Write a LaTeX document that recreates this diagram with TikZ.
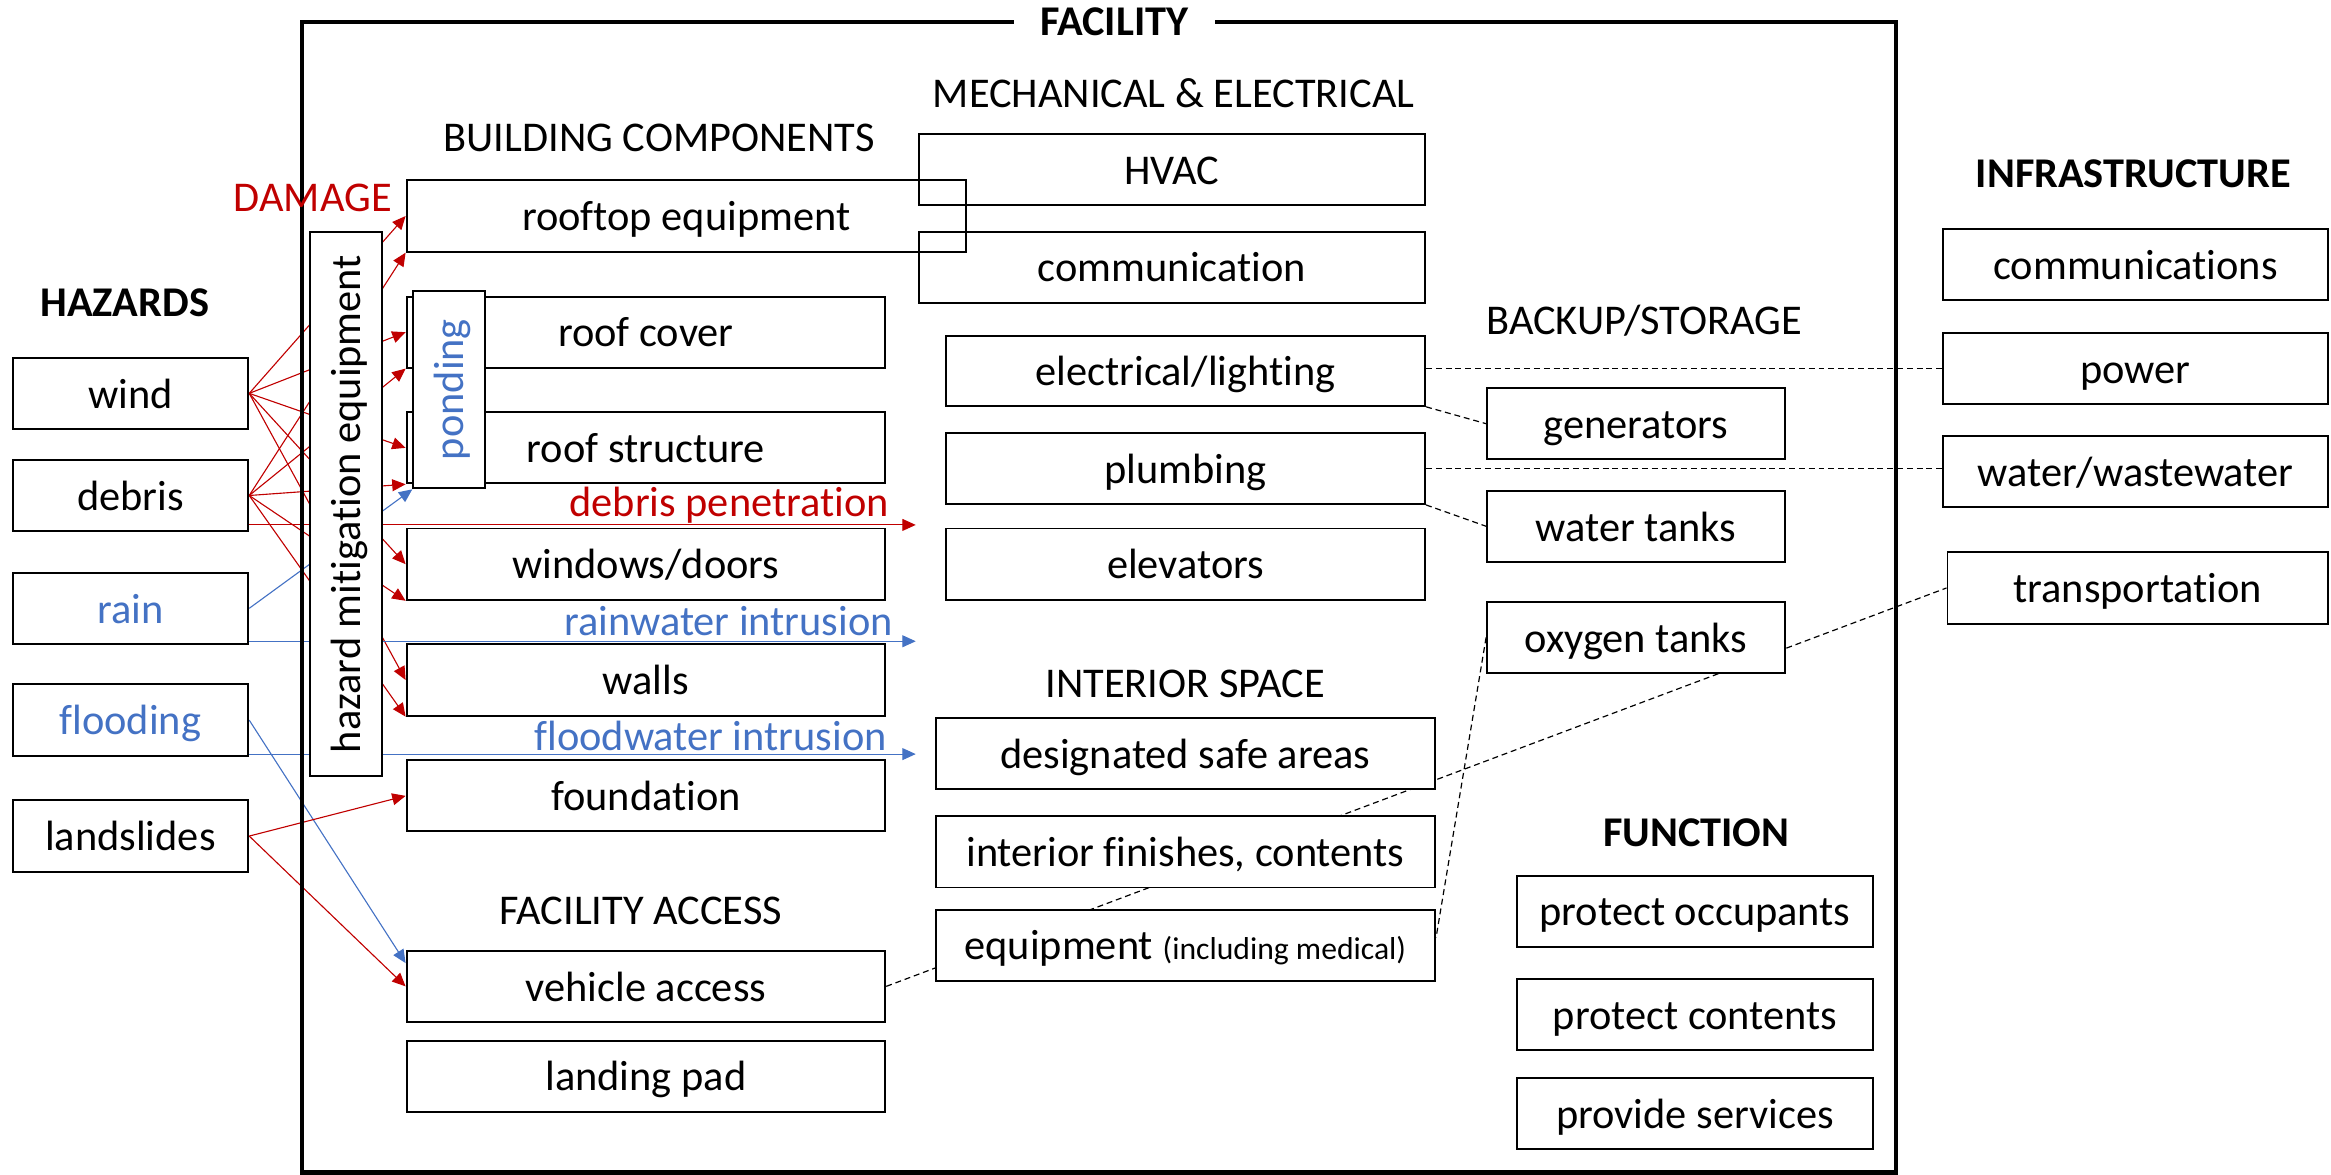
\documentclass[tikz,border=0pt]{standalone}
\usepackage{fontspec}
\setmainfont{Carlito}[Ligatures=NoCommon]
\usetikzlibrary{arrows.meta,calc}
\definecolor{dmgred}{HTML}{C00000}
\definecolor{wblue}{HTML}{4472C4}
\pgfdeclarelayer{bg}
\pgfsetlayers{bg,main}
\begin{document}
\begin{tikzpicture}[x=1pt,y=-1pt,
  bx/.style={draw, line width=1.3pt, fill=white, inner sep=0pt,
    font=\fontsize{28.5}{33}\selectfont, text height=24.2pt, text depth=4.3pt},
  ox/.style={bx, fill=none},
  lbl/.style={inner sep=0pt, font=\fontsize{28.5}{33}\selectfont, anchor=base},
  blbl/.style={inner sep=0pt, font=\fontsize{28.5}{33}\selectfont\bfseries, anchor=base},
  rline/.style={draw=dmgred, line width=0.75pt, -{Triangle[length=9pt,width=8pt]}},
  bline/.style={draw=wblue, line width=0.75pt, -{Triangle[length=9pt,width=8pt]}},
  dline/.style={draw=black, line width=0.8pt, dash pattern=on 4pt off 2.6pt}]
\useasboundingbox (0,0) rectangle (1568,790);

% facility frame
\node[draw, line width=2.9pt, inner sep=0pt, minimum width=1072.3pt, minimum height=773.8pt] (facility) at (739.15,401.7) {};
\node[fill=white, inner xsep=18pt, inner ysep=0pt, font=\fontsize{28.5}{33}\selectfont\bfseries, text height=24.2pt, text depth=4.3pt] (faclbl) at (749.6,13.7) {FACILITY};

% hazards
\node[blbl] (hazlbl) at (84,213) {HAZARDS};
\node[bx, minimum width=158.5pt, minimum height=48pt] (wind) at (87.75,264.6) {wind};
\node[bx, minimum width=158.5pt, minimum height=47.7pt] (debris) at (87.75,333.3) {debris};
\node[bx, minimum width=158.5pt, minimum height=48pt, text=wblue] (rain) at (87.75,409.2) {rain};
\node[bx, minimum width=158.5pt, minimum height=48pt, text=wblue] (flooding) at (87.75,484.4) {flooding};
\node[bx, minimum width=158.5pt, minimum height=48pt] (landslides) at (87.75,562.4) {landslides};

% labels
\node[lbl, text=dmgred] (dmglbl) at (210.4,142.4) {DAMAGE};
\node[lbl] (bclbl) at (443.4,102) {BUILDING COMPONENTS};
\node[lbl] (melbl) at (789.5,72) {MECHANICAL \& ELECTRICAL};
\node[lbl] (falbl) at (431,621.6) {FACILITY ACCESS};
\node[lbl] (islbl) at (797.3,469) {INTERIOR SPACE};
\node[lbl] (bslbl) at (1106,225) {BACKUP/STORAGE};
\node[blbl] (inflbl) at (1435,126.3) {INFRASTRUCTURE};
\node[blbl] (funlbl) at (1141,569.4) {FUNCTION};

% hazard mitigation equipment
\node[bx, rotate=90, minimum width=366pt, minimum height=48.3pt] (hm) at (232.8,339) {hazard mitigation equipment};

% building components
\node[ox, minimum width=376.2pt, minimum height=48pt] (rooftop) at (461.6,145.3) {rooftop equipment};
\node[bx, minimum width=322pt, minimum height=47.7pt] (roofcover) at (434.5,223.45) {roof cover};
\node[bx, minimum width=322pt, minimum height=47.7pt] (roofstruct) at (434.5,301.25) {roof structure};
\node[bx, minimum width=48pt, minimum height=133pt] (pond) at (302,262) {};
\node[rotate=90, inner sep=0pt, font=\fontsize{28.5}{33}\selectfont, text height=24.2pt, text depth=4.3pt, text=wblue] (pondlbl) at (pond.center) {ponding};
\node[bx, minimum width=322pt, minimum height=48pt] (windows) at (434.5,379.5) {windows/doors};
\node[bx, minimum width=322pt, minimum height=48pt] (walls) at (434.5,457.4) {walls};
\node[bx, minimum width=322pt, minimum height=47.7pt] (foundation) at (434.5,535.35) {foundation};
\node[bx, minimum width=322pt, minimum height=47.6pt] (vehicle) at (434.5,663.5) {vehicle access};
\node[bx, minimum width=322pt, minimum height=47.8pt] (landing) at (434.5,723.9) {landing pad};

% mechanical & electrical
\node[ox, minimum width=340.7pt, minimum height=47.6pt] (hvac) at (788.25,114.2) {HVAC};
\node[ox, minimum width=340.7pt, minimum height=47.8pt] (comm) at (788.25,179.7) {communication};
\node[bx, minimum width=322.3pt, minimum height=47pt] (elec) at (797.45,249.5) {electrical/lighting};
\node[bx, minimum width=322.3pt, minimum height=47.5pt] (plumb) at (797.45,315.25) {plumbing};
\node[bx, minimum width=322.3pt, minimum height=47.8pt] (elev) at (797.45,379.4) {elevators};

% interior space
\node[bx, minimum width=335.9pt, minimum height=48pt] (safe) at (797.35,507) {designated safe areas};
\node[bx, minimum width=335.9pt, minimum height=48pt] (finish) at (797.35,573) {interior finishes, contents};
\node[bx, minimum width=335.9pt, minimum height=47.7pt] (equip) at (797.35,635.75) {equipment {\fontsize{21.3}{25}\selectfont (including medical)}};

% backup / storage
\node[bx, minimum width=200.3pt, minimum height=47.5pt] (gen) at (1100.45,285) {generators};
\node[bx, minimum width=200.3pt, minimum height=47.5pt] (wtank) at (1100.45,354) {water tanks};
\node[bx, minimum width=200.3pt, minimum height=47.6pt] (oxy) at (1100.45,428.8) {oxygen tanks};

% infrastructure
\node[bx, minimum width=258.5pt, minimum height=47.8pt] (icomm) at (1436.45,178) {communications};
\node[bx, minimum width=258.5pt, minimum height=47.8pt] (power) at (1436.45,247.7) {power};
\node[bx, minimum width=258.5pt, minimum height=47.5pt] (water) at (1436.45,317) {water/wastewater};
\node[bx, minimum width=256pt, minimum height=47.9pt] (transp) at (1438,395.5) {transportation};

% function
\node[bx, minimum width=239.6pt, minimum height=47.8pt] (occ) at (1140.2,612.9) {protect occupants};
\node[bx, minimum width=239.6pt, minimum height=47.9pt] (cont) at (1140.2,682.35) {protect contents};
\node[bx, minimum width=239.6pt, minimum height=47.9pt] (serv) at (1140.2,749.15) {provide services};

% connector labels
\node[lbl, anchor=base east, text=dmgred] (dplbl) at (598,347.6) {debris penetration};
\node[lbl, anchor=base east, text=wblue] (rilbl) at (600.8,427.2) {rainwater intrusion};
\node[lbl, anchor=base east, text=wblue] (filbl) at (596.7,504.5) {floodwater intrusion};

% free ends
\coordinate (tipx) at (616,0);
\coordinate (dpS) at ([yshift=4.7pt]debris.south east);
\coordinate (riS) at ([yshift=2.5pt]rain.south east);
\coordinate (fiS) at ([yshift=1.8pt]flooding.south east);
\coordinate (vehF) at ($(vehicle.north west)!0.18!(vehicle.south west)$);
\coordinate (eqO) at ($(equip.north east)!0.4!(equip.south east)$);

\begin{pgfonlayer}{bg}
% wind
\draw[rline] (wind.east) -- (rooftop.west);
\draw[rline] (wind.east) -- (roofcover.west);
\draw[rline] (wind.east) -- (roofstruct.west);
\draw[rline] (wind.east) -- (windows.west);
\draw[rline] (wind.east) -- (walls.west);
% debris
\draw[rline] (debris.east) -- (rooftop.south west);
\draw[rline] (debris.east) -- (roofcover.south west);
\draw[rline] (debris.east) -- (roofstruct.south west);
\draw[rline] (debris.east) -- (windows.south west);
\draw[rline] (debris.east) -- (walls.south west);
\draw[rline] (dpS) -- (dpS -| tipx);
% rain
\draw[bline] (rain.east) -- (pond.south west);
\draw[bline] (riS) -- (riS -| tipx);
% flooding
\draw[bline] (flooding.east) -- (vehF);
\draw[bline] (fiS) -- (fiS -| tipx);
% landslides
\draw[rline] (landslides.east) -- (foundation.west);
\draw[rline] (landslides.east) -- (vehicle.west);
% dashed dependencies
\draw[dline] (power.west -| elec.east) -- (power.west);
\draw[dline] (elec.south east) -- (gen.west);
\draw[dline] (plumb.east) -- (plumb.east -| water.west);
\draw[dline] (plumb.south east) -- (wtank.west);
\draw[dline] (vehicle.east) -- (transp.west);
\draw[dline] (oxy.west) -- (eqO);
\end{pgfonlayer}
\end{tikzpicture}
\end{document}
